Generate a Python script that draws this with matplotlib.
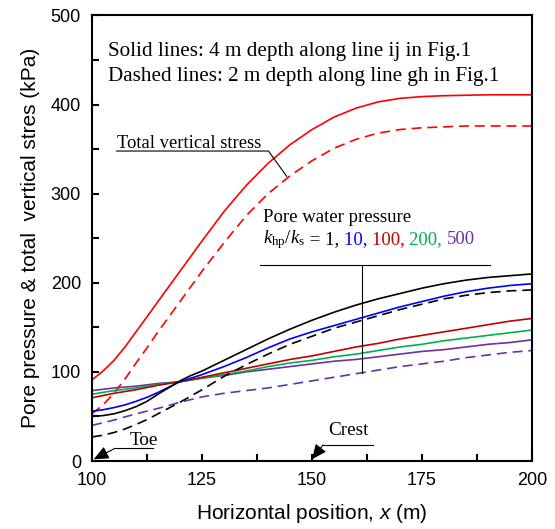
import matplotlib
matplotlib.use("Agg")
import matplotlib.pyplot as plt
from matplotlib.ticker import MultipleLocator

plt.rcParams['font.family'] = ['Liberation Sans', 'DejaVu Sans']
plt.rcParams['mathtext.fontset'] = 'custom'
plt.rcParams['mathtext.rm'] = 'Liberation Serif'
plt.rcParams['mathtext.it'] = 'Liberation Serif:italic'
plt.rcParams['mathtext.sf'] = 'Liberation Sans:italic'

# horizontal position (m)
x = [100, 102.5, 105, 107.5, 110, 112.5, 115, 117.5, 120, 122.5, 125, 130, 135, 140,
     145, 150, 155, 160, 165, 170, 175, 180, 185, 190, 195, 200]

# total vertical stress (kPa)
tvs_4m = [91, 101, 113, 128, 145, 162, 179, 196, 213, 230, 247, 280, 309, 334,
          355, 372, 386, 396, 403, 407, 409, 410, 410.5, 411, 411, 411]
tvs_2m = [53, 63, 76, 92, 110, 127, 145, 162, 179, 196, 213, 245, 275, 300,
          320, 337, 351, 361, 368, 372, 374, 375, 376, 376, 376, 376]

# pore water pressure, 4 m depth (kPa)
pwp_4m = {
    "1": [50, 51, 53, 56.5, 61, 67, 75, 82.5, 90, 96, 101, 113, 125, 137,
          148, 158, 167, 175, 182, 188, 194, 199, 203, 206, 208, 210],
    "10": [56, 57.5, 60, 63, 67, 71.5, 77, 83, 89, 93, 97, 106, 116, 127,
           137, 145, 152, 159, 166, 173, 179, 185, 190, 194, 197, 199],
    "100": [71, 73.5, 76, 78, 80, 82.5, 85, 87, 89, 91.5, 94, 99, 104, 109,
            114, 118, 123, 128, 132, 137, 141, 145, 149, 153, 157, 160],
    "200": [75, 77, 79, 80.5, 82, 84, 86, 87.5, 89, 91, 93, 97, 101, 106,
            110, 113, 117, 120, 124, 128, 131, 135, 138, 141, 144, 147],
    "500": [79, 80.5, 82, 83, 84, 85.5, 87, 88, 89, 91, 93, 96, 100, 103,
            106, 109, 112, 114, 117, 120, 123, 125, 128, 131, 133, 136],
}
# pore water pressure, 2 m depth (kPa)
pwp_2m = {
    "1": [27, 29, 32, 36, 41, 46.5, 53, 59.5, 66, 73, 80, 95, 108, 120,
          131, 140, 149, 156, 163, 170, 176, 182, 186, 189, 191, 192],
    "500": [40, 43, 46, 49.5, 53, 56, 59, 62.5, 66, 69, 72, 76, 79, 82,
            86, 90, 94, 98, 102, 106, 109, 112, 116, 119, 122, 124],
}

colors = {"1": "black", "10": "#0000FF", "100": "#C00000",
          "200": "#00B050", "500": "#7030A0"}

fig = plt.figure(figsize=(5.55, 5.29), dpi=100)
ax = fig.add_axes([0.1658, 0.1285, 0.7928, 0.8422])

lw = 1.2
dash = (0, (6, 3.5))
ax.plot(x, tvs_4m, color="#FF0000", lw=lw)
ax.plot(x, tvs_2m, color="#FF0000", lw=lw, linestyle=dash)
for k in ["500", "200", "100", "10", "1"]:
    ax.plot(x, pwp_4m[k], color=colors[k], lw=lw)
for k in ["500", "1"]:
    ax.plot(x, pwp_2m[k], color=colors[k], lw=lw, linestyle=dash)

ax.set_xlim(100, 200)
ax.set_ylim(0, 500)
ax.xaxis.set_major_locator(MultipleLocator(25))
ax.xaxis.set_minor_locator(MultipleLocator(12.5))
ax.yaxis.set_major_locator(MultipleLocator(100))
ax.yaxis.set_minor_locator(MultipleLocator(50))
ax.tick_params(which="both", direction="in", length=5, width=1.5,
               labelsize=13, top=False, right=False, pad=8)
for s in ax.spines.values():
    s.set_linewidth(1.5)

ax.set_xlabel("Horizontal position, $\\mathsf{x}$ (m)", fontsize=15, labelpad=9)
ax.set_ylabel("Pore pressure & total  vertical stres (kPa)", fontsize=15, labelpad=8)

serif = "Liberation Serif"
ax.text(103.6, 455, "Solid lines: 4 m depth along line ij in Fig.1",
        family=serif, fontsize=15.2, va="baseline")
ax.text(103.6, 427, "Dashed lines: 2 m depth along line gh in Fig.1",
        family=serif, fontsize=15.2, va="baseline")

# total vertical stress label
ax.text(105.6, 351, "Total vertical stress", family=serif, fontsize=13.4, va="baseline")
ax.plot([105.6, 140.1, 144.25], [347.9, 347.9, 319.5], color="black", lw=0.8)

# pore water pressure label
ax.text(138.8, 268, "Pore water pressure", family=serif, fontsize=13.5, va="baseline")
ax.plot([138.2, 190.5], [220, 220], color="black", lw=0.8)
ax.plot([161.4, 161.4], [220, 99], color="black", lw=0.8)

pieces = [("$k_{\\rm hp}/k_{\\rm s}$", "black"), (" = 1, ", "black"),
          ("10, ", colors["10"]), ("100, ", colors["100"]),
          ("200, ", colors["200"]), ("500", colors["500"])]
fig.canvas.draw()
renderer = fig.canvas.get_renderer()
xpos = 138.8
for txt, c in pieces:
    t = ax.text(xpos, 244, txt, family=serif, fontsize=13.5, color=c, va="baseline")
    bb = t.get_window_extent(renderer)
    xpos = ax.transData.inverted().transform((bb.x1, bb.y0))[0]

# toe and crest markers
head = "-|>,head_length=0.9,head_width=0.4"
ax.text(108.6, 18, "Toe", family=serif, fontsize=13.8, va="baseline")
ax.annotate("", xy=(100.4, 2), xytext=(105.2, 14.2),
            arrowprops=dict(arrowstyle=head, color="black", lw=0.8,
                            shrinkA=0, shrinkB=0))
ax.plot([105.2, 113.9], [14.2, 14.2], color="black", lw=0.8)

ax.text(153.6, 29, "Crest", family=serif, fontsize=13.8, va="baseline")
ax.annotate("", xy=(150, 2), xytext=(152.5, 18),
            arrowprops=dict(arrowstyle=head, color="black", lw=0.8,
                            shrinkA=0, shrinkB=0))
ax.plot([152.5, 163.8], [18, 18], color="black", lw=0.8)

fig.savefig("out.png", dpi=100)
